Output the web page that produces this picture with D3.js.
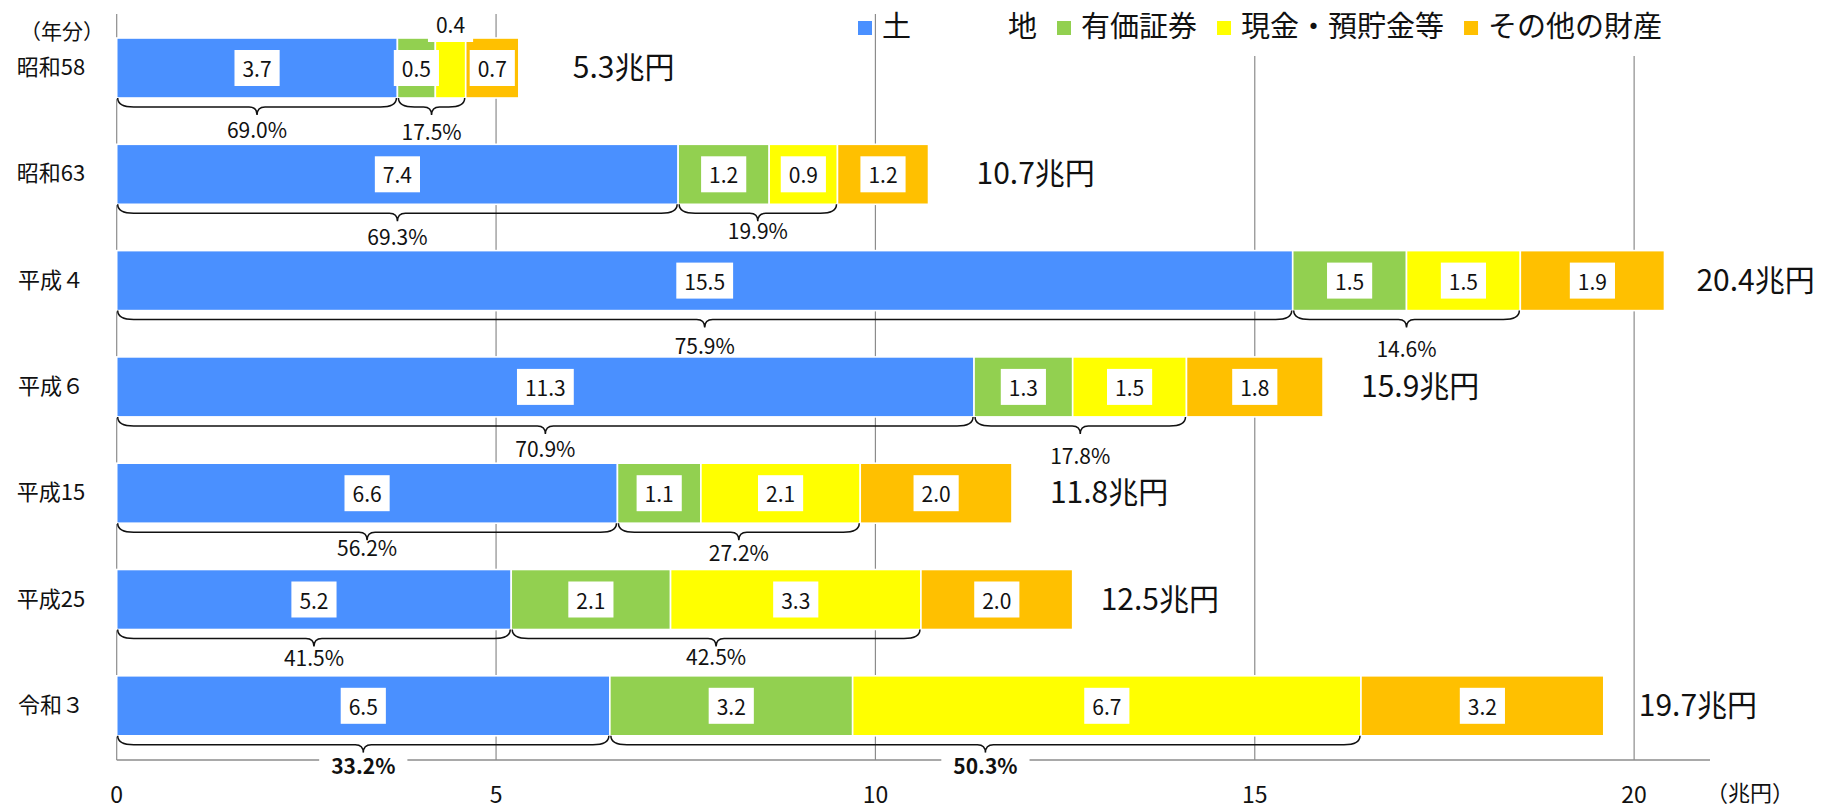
<!DOCTYPE html>
<html lang="ja">
<head>
<meta charset="utf-8">
<script src="https://cdn.jsdelivr.net/npm/d3@7/dist/d3.min.js"></script>
<style>
  html, body { margin: 0; padding: 0; background: #fff; }
  svg { display: block; font-family: "Noto Sans CJK JP", "Noto Sans", sans-serif; }
</style>
</head>
<body>
<svg id="chart" width="1835" height="811"></svg>
<script>
// 相続財産の構成比の推移（兆円）
const categories = ['昭和58', '昭和63', '平成４', '平成６', '平成15', '平成25', '令和３'];
const land       = [3.7, 7.4, 15.5, 11.3, 6.6, 5.2, 6.5];
const securities = [0.5, 1.2, 1.5, 1.3, 1.1, 2.1, 3.2];
const cash       = [0.4, 0.9, 1.5, 1.5, 2.1, 3.3, 6.7];
const others     = [0.7, 1.2, 1.9, 1.8, 2.0, 2.0, 3.2];
const totals     = [5.3, 10.7, 20.4, 15.9, 11.8, 12.5, 19.7];
const landShare      = ['69.0%', '69.3%', '75.9%', '70.9%', '56.2%', '41.5%', '33.2%'];
const financialShare = ['17.5%', '19.9%', '14.6%', '17.8%', '27.2%', '42.5%', '50.3%'];
const seriesKeys  = ['land', 'securities', 'cash', 'others'];
const seriesNames = ['土地', '有価証券', '現金・預貯金等', 'その他の財産'];
const xTicks = [0, 5, 10, 15, 20];

const colors = { land: '#4A90FF', securities: '#92D050', cash: '#FFFF00', others: '#FFC000' };

// hand-placed label offsets (px)
const landPctDy = [31, 32, 34, 31, 24, 27, 29];
const finPctDy  = [33, 26, 37, 38, 29, 26, 29];
const totalGap  = [54, 48, 32, 38, 38, 28, 35];

const svg = d3.select('#chart');
const rows = categories.map((c, i) => ({
  cat: c, land: land[i], securities: securities[i], cash: cash[i], others: others[i]
}));

const x = d3.scaleLinear().domain([0, 21]).range([116.7, 1710]);
const y = d3.scaleBand().domain(categories)
  .range([38, 735.8]).paddingInner(46.3 / 106.3).paddingOuter(0);

const axisY = 760;
const gridTop = 14;

// gridlines
svg.append('g').selectAll('line').data(xTicks).join('line')
  .attr('x1', d => x(d)).attr('x2', d => x(d))
  .attr('y1', gridTop).attr('y2', axisY)
  .attr('stroke', '#8c8c8c').attr('stroke-width', 1.2);

// legend (white backing over the upper gridlines)
const legend = svg.append('g');
legend.append('rect').attr('x', 884).attr('y', 0).attr('width', 810).attr('height', 56).attr('fill', '#fff');
let lx = 858;
seriesKeys.forEach((k, i) => {
  legend.append('rect').attr('x', lx).attr('y', 21).attr('width', 14).attr('height', 14).attr('fill', colors[k]);
  const t = legend.append('text').attr('x', lx + 24).attr('y', 24).attr('dominant-baseline', 'central')
    .attr('font-size', 29).attr('fill', '#111');
  let w;
  if (k === 'land') {
    // 「土　地」 spread across the width of a four-character label
    t.append('tspan').text(seriesNames[i][0]);
    t.append('tspan').attr('x', lx + 24 + 126).text(seriesNames[i][1]);
    w = 126 + 29;
  } else {
    t.text(seriesNames[i]);
    w = t.node().getComputedTextLength();
  }
  lx += 24 + w + 20;
});

// stacked bars
const stacked = d3.stack().keys(seriesKeys)(rows);
const barG = svg.append('g');
stacked.forEach(layer => {
  barG.selectAll(null).data(layer).join('rect')
    .attr('x', d => x(d[0]))
    .attr('y', d => y(d.data.cat))
    .attr('width', d => x(d[1]) - x(d[0]))
    .attr('height', y.bandwidth())
    .attr('fill', colors[layer.key])
    .attr('stroke', '#fff').attr('stroke-width', 1.6);
});

// value labels in white boxes
const labelG = svg.append('g');
stacked.forEach(layer => {
  layer.forEach(d => {
    const v = d[1] - d[0];
    const cx = (x(d[0]) + x(d[1])) / 2;
    const w = x(d[1]) - x(d[0]);
    const cy = w < 32 ? y(d.data.cat) - 14 : y(d.data.cat) + y.bandwidth() / 2;
    const g = labelG.append('g');
    const t = g.append('text').attr('x', cx).attr('y', cy).attr('text-anchor', 'middle')
      .attr('dominant-baseline', 'central').attr('font-size', 21).attr('fill', '#111')
      .text(d3.format('.1f')(v));
    const tw = t.node().getComputedTextLength();
    g.insert('rect', 'text').attr('x', cx - tw / 2 - 8).attr('y', cy - 18)
      .attr('width', tw + 16).attr('height', 36).attr('fill', '#fff');
  });
});

// x axis baseline
svg.append('line').attr('x1', x(0)).attr('x2', x(21)).attr('y1', axisY).attr('y2', axisY)
  .attr('stroke', '#8c8c8c').attr('stroke-width', 1.5);

// braces under land and financial-asset segments
function brace(x0, x1, y0) {
  const y1 = y0 + 9, y2 = y0 + 17, mid = (x0 + x1) / 2;
  const r = Math.min(16, (x1 - x0) / 4);
  return `M${x0},${y0} Q${x0},${y1} ${x0 + r},${y1} L${mid - 8},${y1} Q${mid},${y1} ${mid},${y2}` +
         ` Q${mid},${y1} ${mid + 8},${y1} L${x1 - r},${y1} Q${x1},${y1} ${x1},${y0}`;
}
const braceG = svg.append('g');
rows.forEach((r, i) => {
  const bottom = y(r.cat) + y.bandwidth();
  const a0 = x(0), a1 = x(r.land);
  const b0 = x(r.land), b1 = x(r.land + r.securities + r.cash);
  braceG.append('path').attr('d', brace(a0 + 1, a1 - 1, bottom)).attr('fill', 'none')
    .attr('stroke', '#111').attr('stroke-width', 1.5);
  braceG.append('path').attr('d', brace(b0 + 1, b1 - 1, bottom)).attr('fill', 'none')
    .attr('stroke', '#111').attr('stroke-width', 1.5);
  const last = i === rows.length - 1;
  [[(a0 + a1) / 2, landShare[i], landPctDy[i]], [(b0 + b1) / 2, financialShare[i], finPctDy[i]]]
    .forEach(([cx, s, dy]) => {
      const g = braceG.append('g');
      const ty = bottom + dy;
      const t = g.append('text').attr('x', cx).attr('y', ty).attr('text-anchor', 'middle')
        .attr('dominant-baseline', 'central').attr('font-size', 21)
        .attr('font-weight', last ? 'bold' : 'normal').attr('fill', '#111').text(s);
      if (last) {
        const tw = t.node().getComputedTextLength();
        g.insert('rect', 'text').attr('x', cx - tw / 2 - 12).attr('y', ty - 12)
          .attr('width', tw + 24).attr('height', 24).attr('fill', '#fff');
      }
    });
});

// totals to the right of each bar
svg.append('g').selectAll('text').data(rows).join('text')
  .attr('x', (d, i) => x(d.land + d.securities + d.cash + d.others) + totalGap[i])
  .attr('y', d => y(d.cat) + y.bandwidth() / 2 - 3)
  .attr('dominant-baseline', 'central').attr('font-size', 30).attr('fill', '#111')
  .text((d, i) => d3.format('.1f')(totals[i]) + '兆円');

// category labels
svg.append('g').selectAll('text').data(categories).join('text')
  .attr('x', 51).attr('y', d => y(d) + y.bandwidth() / 2 - 3)
  .attr('text-anchor', 'middle').attr('dominant-baseline', 'central')
  .attr('font-size', 22).attr('fill', '#111').text(d => d);
svg.append('text').attr('x', 104).attr('y', 30).attr('text-anchor', 'end')
  .attr('dominant-baseline', 'central').attr('font-size', 21).attr('fill', '#111').text('（年分）');

// x tick labels
svg.append('g').selectAll('text').data(xTicks).join('text')
  .attr('x', d => x(d)).attr('y', 793).attr('text-anchor', 'middle')
  .attr('dominant-baseline', 'central').attr('font-size', 23).attr('fill', '#111').text(d => d);
svg.append('text').attr('x', 1706).attr('y', 791).attr('dominant-baseline', 'central')
  .attr('font-size', 22).attr('fill', '#111').text('（兆円）');
</script>
</body>
</html>
